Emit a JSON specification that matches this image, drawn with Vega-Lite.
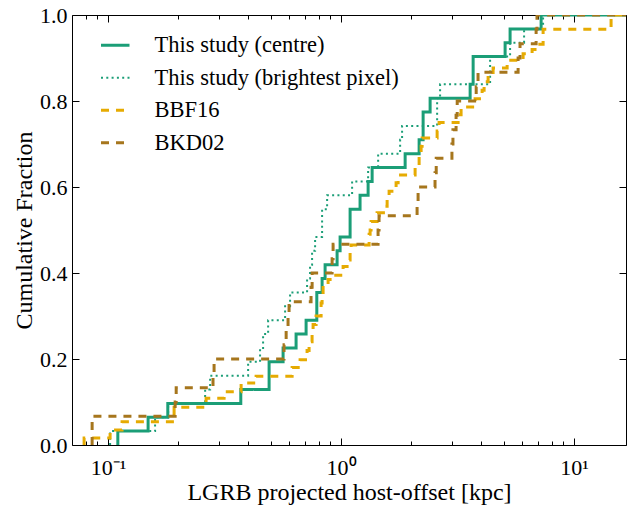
{
  "$schema": "https://vega.github.io/schema/vega-lite/v6.json",
  "width": 554,
  "height": 430,
  "autosize": "none",
  "padding": {"left": 72, "top": 15, "right": 1, "bottom": 60},
  "config": {
    "view": {"stroke": "#000", "strokeWidth": 1},
    "font": "Liberation Serif",
    "axis": {
      "grid": false,
      "domain": false,
      "labelFont": "Liberation Serif",
      "labelFontSize": 22,
      "labelColor": "#000",
      "titleFont": "Liberation Serif",
      "titleFontSize": 24,
      "titleFontWeight": "normal",
      "titleColor": "#000",
      "tickColor": "#000",
      "tickWidth": 1
    },
    "legend": {
      "symbolType": "stroke",
      "symbolSize": 812,
      "symbolStrokeWidth": 3,
      "labelFont": "Liberation Serif",
      "labelFontSize": 22.5,
      "labelColor": "#000",
      "labelOffset": 28,
      "labelLimit": 0,
      "rowPadding": 9.5,
      "padding": 0
    }
  },
  "datasets": {
    "cdf": [
      {"series": "This study (centre)", "offset": 0.1101, "frac": 0},
      {"series": "This study (centre)", "offset": 0.1101, "frac": 0.0323},
      {"series": "This study (centre)", "offset": 0.1485, "frac": 0.0645},
      {"series": "This study (centre)", "offset": 0.1804, "frac": 0.0968},
      {"series": "This study (centre)", "offset": 0.3711, "frac": 0.129},
      {"series": "This study (centre)", "offset": 0.4909, "frac": 0.1613},
      {"series": "This study (centre)", "offset": 0.4909, "frac": 0.1935},
      {"series": "This study (centre)", "offset": 0.5637, "frac": 0.2258},
      {"series": "This study (centre)", "offset": 0.6409, "frac": 0.2581},
      {"series": "This study (centre)", "offset": 0.7076, "frac": 0.2903},
      {"series": "This study (centre)", "offset": 0.7865, "frac": 0.3226},
      {"series": "This study (centre)", "offset": 0.7865, "frac": 0.3548},
      {"series": "This study (centre)", "offset": 0.8288, "frac": 0.3871},
      {"series": "This study (centre)", "offset": 0.8538, "frac": 0.4194},
      {"series": "This study (centre)", "offset": 0.9612, "frac": 0.4516},
      {"series": "This study (centre)", "offset": 0.9902, "frac": 0.4839},
      {"series": "This study (centre)", "offset": 1.093, "frac": 0.5161},
      {"series": "This study (centre)", "offset": 1.093, "frac": 0.5484},
      {"series": "This study (centre)", "offset": 1.206, "frac": 0.5806},
      {"series": "This study (centre)", "offset": 1.306, "frac": 0.6129},
      {"series": "This study (centre)", "offset": 1.359, "frac": 0.6452},
      {"series": "This study (centre)", "offset": 1.883, "frac": 0.6774},
      {"series": "This study (centre)", "offset": 2.162, "frac": 0.7097},
      {"series": "This study (centre)", "offset": 2.249, "frac": 0.7419},
      {"series": "This study (centre)", "offset": 2.249, "frac": 0.7742},
      {"series": "This study (centre)", "offset": 2.41, "frac": 0.8065},
      {"series": "This study (centre)", "offset": 3.579, "frac": 0.8387},
      {"series": "This study (centre)", "offset": 3.687, "frac": 0.871},
      {"series": "This study (centre)", "offset": 3.687, "frac": 0.9032},
      {"series": "This study (centre)", "offset": 5.057, "frac": 0.9355},
      {"series": "This study (centre)", "offset": 5.312, "frac": 0.9677},
      {"series": "This study (centre)", "offset": 7.218, "frac": 1},
      {"series": "This study (centre)", "offset": 20, "frac": 1},

      {"series": "This study (brightest pixel)", "offset": 0.102, "frac": 0},
      {"series": "This study (brightest pixel)", "offset": 0.102, "frac": 0.0323},
      {"series": "This study (brightest pixel)", "offset": 0.1591, "frac": 0.0645},
      {"series": "This study (brightest pixel)", "offset": 0.181, "frac": 0.0968},
      {"series": "This study (brightest pixel)", "offset": 0.2609, "frac": 0.129},
      {"series": "This study (brightest pixel)", "offset": 0.2741, "frac": 0.1613},
      {"series": "This study (brightest pixel)", "offset": 0.399, "frac": 0.1935},
      {"series": "This study (brightest pixel)", "offset": 0.449, "frac": 0.2258},
      {"series": "This study (brightest pixel)", "offset": 0.4626, "frac": 0.2581},
      {"series": "This study (brightest pixel)", "offset": 0.4862, "frac": 0.2903},
      {"series": "This study (brightest pixel)", "offset": 0.575, "frac": 0.3226},
      {"series": "This study (brightest pixel)", "offset": 0.604, "frac": 0.3548},
      {"series": "This study (brightest pixel)", "offset": 0.7145, "frac": 0.3871},
      {"series": "This study (brightest pixel)", "offset": 0.7358, "frac": 0.4194},
      {"series": "This study (brightest pixel)", "offset": 0.7507, "frac": 0.4516},
      {"series": "This study (brightest pixel)", "offset": 0.7734, "frac": 0.4839},
      {"series": "This study (brightest pixel)", "offset": 0.8288, "frac": 0.5161},
      {"series": "This study (brightest pixel)", "offset": 0.8288, "frac": 0.5484},
      {"series": "This study (brightest pixel)", "offset": 0.8709, "frac": 0.5806},
      {"series": "This study (brightest pixel)", "offset": 1.115, "frac": 0.6129},
      {"series": "This study (brightest pixel)", "offset": 1.306, "frac": 0.6452},
      {"series": "This study (brightest pixel)", "offset": 1.442, "frac": 0.6774},
      {"series": "This study (brightest pixel)", "offset": 1.792, "frac": 0.7097},
      {"series": "This study (brightest pixel)", "offset": 1.827, "frac": 0.7419},
      {"series": "This study (brightest pixel)", "offset": 2.583, "frac": 0.7742},
      {"series": "This study (brightest pixel)", "offset": 2.583, "frac": 0.8065},
      {"series": "This study (brightest pixel)", "offset": 2.66, "frac": 0.8387},
      {"series": "This study (brightest pixel)", "offset": 4.36, "frac": 0.871},
      {"series": "This study (brightest pixel)", "offset": 4.36, "frac": 0.9032},
      {"series": "This study (brightest pixel)", "offset": 5.312, "frac": 0.9355},
      {"series": "This study (brightest pixel)", "offset": 6.1, "frac": 0.9677},
      {"series": "This study (brightest pixel)", "offset": 7.36, "frac": 1},
      {"series": "This study (brightest pixel)", "offset": 20, "frac": 1},

      {"series": "BBF16", "offset": 0.0789, "frac": 0},
      {"series": "BBF16", "offset": 0.0789, "frac": 0.016},
      {"series": "BBF16", "offset": 0.102, "frac": 0.035},
      {"series": "BBF16", "offset": 0.1148, "frac": 0.054},
      {"series": "BBF16", "offset": 0.192, "frac": 0.088},
      {"series": "BBF16", "offset": 0.2634, "frac": 0.109},
      {"series": "BBF16", "offset": 0.3147, "frac": 0.124},
      {"series": "BBF16", "offset": 0.3723, "frac": 0.144},
      {"series": "BBF16", "offset": 0.4317, "frac": 0.16},
      {"series": "BBF16", "offset": 0.6163, "frac": 0.18},
      {"series": "BBF16", "offset": 0.6668, "frac": 0.198},
      {"series": "BBF16", "offset": 0.7145, "frac": 0.22},
      {"series": "BBF16", "offset": 0.7288, "frac": 0.24},
      {"series": "BBF16", "offset": 0.7507, "frac": 0.26},
      {"series": "BBF16", "offset": 0.7582, "frac": 0.28},
      {"series": "BBF16", "offset": 0.781, "frac": 0.3},
      {"series": "BBF16", "offset": 0.8207, "frac": 0.33},
      {"series": "BBF16", "offset": 0.8288, "frac": 0.35},
      {"series": "BBF16", "offset": 0.837, "frac": 0.37},
      {"series": "BBF16", "offset": 0.8794, "frac": 0.385},
      {"series": "BBF16", "offset": 0.897, "frac": 0.395},
      {"series": "BBF16", "offset": 1.02, "frac": 0.415},
      {"series": "BBF16", "offset": 1.061, "frac": 0.43},
      {"series": "BBF16", "offset": 1.093, "frac": 0.45},
      {"series": "BBF16", "offset": 1.104, "frac": 0.465},
      {"series": "BBF16", "offset": 1.319, "frac": 0.49},
      {"series": "BBF16", "offset": 1.332, "frac": 0.5},
      {"series": "BBF16", "offset": 1.345, "frac": 0.52},
      {"series": "BBF16", "offset": 1.427, "frac": 0.54},
      {"series": "BBF16", "offset": 1.545, "frac": 0.555},
      {"series": "BBF16", "offset": 1.576, "frac": 0.575},
      {"series": "BBF16", "offset": 1.607, "frac": 0.59},
      {"series": "BBF16", "offset": 1.722, "frac": 0.61},
      {"series": "BBF16", "offset": 1.757, "frac": 0.628},
      {"series": "BBF16", "offset": 2.078, "frac": 0.645},
      {"series": "BBF16", "offset": 2.162, "frac": 0.67},
      {"series": "BBF16", "offset": 2.205, "frac": 0.695},
      {"series": "BBF16", "offset": 2.227, "frac": 0.714},
      {"series": "BBF16", "offset": 2.583, "frac": 0.73},
      {"series": "BBF16", "offset": 2.634, "frac": 0.75},
      {"series": "BBF16", "offset": 3.178, "frac": 0.768},
      {"series": "BBF16", "offset": 3.273, "frac": 0.786},
      {"series": "BBF16", "offset": 3.759, "frac": 0.805},
      {"series": "BBF16", "offset": 4.029, "frac": 0.825},
      {"series": "BBF16", "offset": 4.109, "frac": 0.845},
      {"series": "BBF16", "offset": 4.275, "frac": 0.86},
      {"series": "BBF16", "offset": 4.491, "frac": 0.877},
      {"series": "BBF16", "offset": 5.159, "frac": 0.895},
      {"series": "BBF16", "offset": 6.04, "frac": 0.91},
      {"series": "BBF16", "offset": 6.603, "frac": 0.92},
      {"series": "BBF16", "offset": 6.937, "frac": 0.932},
      {"series": "BBF16", "offset": 7.362, "frac": 0.967},
      {"series": "BBF16", "offset": 14.41, "frac": 1},
      {"series": "BBF16", "offset": 20, "frac": 1},

      {"series": "BKD02", "offset": 0.0854, "frac": 0},
      {"series": "BKD02", "offset": 0.0854, "frac": 0.0333},
      {"series": "BKD02", "offset": 0.0854, "frac": 0.0667},
      {"series": "BKD02", "offset": 0.194, "frac": 0.1},
      {"series": "BKD02", "offset": 0.196, "frac": 0.1333},
      {"series": "BKD02", "offset": 0.282, "frac": 0.1667},
      {"series": "BKD02", "offset": 0.285, "frac": 0.2},
      {"series": "BKD02", "offset": 0.569, "frac": 0.2333},
      {"series": "BKD02", "offset": 0.581, "frac": 0.2667},
      {"series": "BKD02", "offset": 0.592, "frac": 0.3},
      {"series": "BKD02", "offset": 0.598, "frac": 0.3333},
      {"series": "BKD02", "offset": 0.743, "frac": 0.3667},
      {"series": "BKD02", "offset": 0.751, "frac": 0.4},
      {"series": "BKD02", "offset": 0.915, "frac": 0.4333},
      {"series": "BKD02", "offset": 0.924, "frac": 0.4667},
      {"series": "BKD02", "offset": 1.441, "frac": 0.5},
      {"series": "BKD02", "offset": 1.455, "frac": 0.5333},
      {"series": "BKD02", "offset": 2.119, "frac": 0.5667},
      {"series": "BKD02", "offset": 2.14, "frac": 0.6},
      {"series": "BKD02", "offset": 2.53, "frac": 0.6333},
      {"series": "BKD02", "offset": 2.56, "frac": 0.6667},
      {"series": "BKD02", "offset": 2.99, "frac": 0.7},
      {"series": "BKD02", "offset": 3.02, "frac": 0.7333},
      {"series": "BKD02", "offset": 3.115, "frac": 0.7667},
      {"series": "BKD02", "offset": 3.15, "frac": 0.8},
      {"series": "BKD02", "offset": 3.8, "frac": 0.8333},
      {"series": "BKD02", "offset": 3.87, "frac": 0.8667},
      {"series": "BKD02", "offset": 5.75, "frac": 0.9},
      {"series": "BKD02", "offset": 5.86, "frac": 0.9333},
      {"series": "BKD02", "offset": 6.87, "frac": 0.9667},
      {"series": "BKD02", "offset": 6.93, "frac": 1},
      {"series": "BKD02", "offset": 20, "frac": 1}
    ]
  },
  "data": {"name": "cdf"},
  "layer": [
    {
      "mark": {"type": "line", "interpolate": "step-after", "clip": true, "strokeJoin": "miter"},
      "encoding": {
        "x": {
          "field": "offset",
          "type": "quantitative",
          "scale": {"type": "log", "domain": [0.07, 16.7], "nice": false},
          "axis": {
            "orient": "bottom",
            "values": [0.1, 1, 10],
            "ticks": false,
            "labelPadding": 29,
            "labelBaseline": "alphabetic",
            "labelExpr": "round(log(datum.value) / LN10) < 0 ? '10⁻¹' : round(log(datum.value) / LN10) > 0 ? '10¹' : '10⁰'",
            "title": "LGRB projected host-offset [kpc]",
            "titleBaseline": "alphabetic",
            "titleY": 54
          }
        },
        "y": {
          "field": "frac",
          "type": "quantitative",
          "scale": {"domain": [0, 1], "nice": false},
          "axis": {
            "orient": "left",
            "values": [0, 0.2, 0.4, 0.6, 0.8, 1.0],
            "format": ".1f",
            "ticks": false,
            "labelPadding": 5,
            "title": "Cumulative Fraction",
            "titleBaseline": "alphabetic",
            "titleX": -41
          }
        },
        "color": {
          "field": "series",
          "type": "nominal",
          "scale": {
            "domain": ["This study (centre)", "This study (brightest pixel)", "BBF16", "BKD02"],
            "range": ["#1b9e77", "#1b9e77", "#e6ab02", "#a6761d"]
          },
          "legend": {
            "title": null,
            "orient": "none",
            "legendX": 32,
            "legendY": 19,
            "encode": {
              "symbols": {
                "update": {
                  "strokeWidth": {"signal": "datum.label === 'This study (brightest pixel)' ? 2 : 3"}
                }
              }
            }
          }
        },
        "strokeDash": {
          "field": "series",
          "type": "nominal",
          "scale": {
            "domain": ["This study (centre)", "This study (brightest pixel)", "BBF16", "BKD02"],
            "range": [[1, 0], [2, 3.3], [8, 7], [8, 7]]
          },
          "legend": {"title": null}
        },
        "strokeWidth": {
          "condition": {"test": "datum.series === 'This study (brightest pixel)'", "value": 2},
          "value": 3
        },
        "order": [{"field": "offset"}, {"field": "frac"}]
      }
    },
    {
      "mark": {"type": "point", "opacity": 0},
      "encoding": {
        "x": {
          "field": "offset", "type": "quantitative",
          "axis": {"orient": "bottom", "values": [0.1, 1, 10], "labels": false, "tickSize": -7, "title": null}
        },
        "y": {
          "field": "frac", "type": "quantitative",
          "axis": {"orient": "left", "values": [0, 0.2, 0.4, 0.6, 0.8, 1.0], "labels": false, "tickSize": -7, "title": null}
        }
      }
    },
    {
      "mark": {"type": "point", "opacity": 0},
      "encoding": {
        "x": {
          "field": "offset", "type": "quantitative",
          "axis": {"orient": "bottom", "values": [0.08, 0.09, 0.2, 0.3, 0.4, 0.5, 0.6, 0.7, 0.8, 0.9, 2, 3, 4, 5, 6, 7, 8, 9], "labels": false, "tickSize": -4, "title": null}
        },
        "y": {
          "field": "frac", "type": "quantitative",
          "axis": {"orient": "right", "values": [0, 0.2, 0.4, 0.6, 0.8, 1.0], "labels": false, "tickSize": -7, "title": null}
        }
      }
    },
    {
      "mark": {"type": "point", "opacity": 0},
      "encoding": {
        "x": {
          "field": "offset", "type": "quantitative",
          "axis": {"orient": "top", "values": [0.1, 1, 10], "labels": false, "tickSize": -7, "title": null}
        },
        "y": {"field": "frac", "type": "quantitative", "axis": null}
      }
    },
    {
      "mark": {"type": "point", "opacity": 0},
      "encoding": {
        "x": {
          "field": "offset", "type": "quantitative",
          "axis": {"orient": "top", "values": [0.08, 0.09, 0.2, 0.3, 0.4, 0.5, 0.6, 0.7, 0.8, 0.9, 2, 3, 4, 5, 6, 7, 8, 9], "labels": false, "tickSize": -4, "title": null}
        },
        "y": {"field": "frac", "type": "quantitative", "axis": null}
      }
    }
  ],
  "resolve": {"axis": {"x": "independent", "y": "independent"}}
}
